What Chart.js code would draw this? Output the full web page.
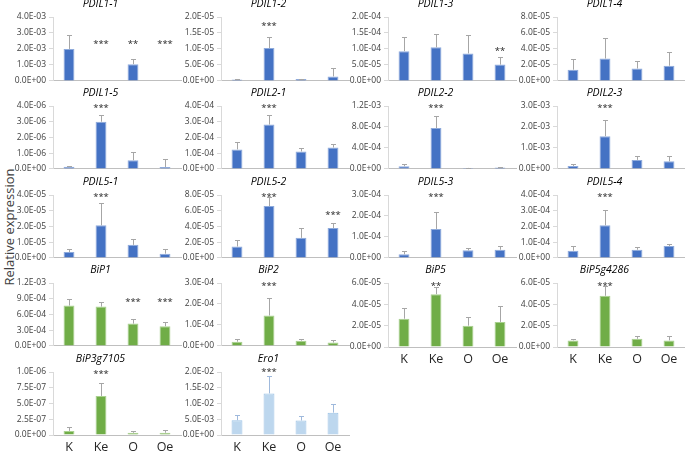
<!DOCTYPE html>
<html>
<head>
<meta charset="utf-8">
<script src="https://cdn.jsdelivr.net/npm/chart.js@4.4.0/dist/chart.umd.min.js"></script>
<style>
  html, body { margin: 0; padding: 0; background: #fff; }
  #figure { position: relative; width: 685px; height: 452px; overflow: hidden; background: #fff; }
  #figure canvas { position: absolute; }
  #yLabel {
    position: absolute; left: 9px; top: 227px;
    transform: translate(-50%, -50%) rotate(-90deg);
    font: 13px "Open Sans", sans-serif; color: #404040; white-space: nowrap;
  }
</style>
</head>
<body>
<div id="figure"><div id="yLabel">Relative expression</div></div>
<script>
const groups = ["K", "Ke", "O", "Oe"];

const genes = [
  "PDIL1-1", "PDIL1-2", "PDIL1-3", "PDIL1-4",
  "PDIL1-5", "PDIL2-1", "PDIL2-2", "PDIL2-3",
  "PDIL5-1", "PDIL5-2", "PDIL5-3", "PDIL5-4",
  "BiP1", "BiP2", "BiP5", "BiP5g4286",
  "BiP3g7105", "Ero1"
];

const means = [
  [2.0e-3, 0, 1.05e-3, 0],
  [4e-7, 1.03e-5, 6e-7, 1.4e-6],
  [9.3e-5, 1.05e-4, 8.6e-5, 5.1e-5],
  [1.4e-5, 2.8e-5, 1.55e-5, 1.9e-5],
  [1.3e-7, 3.0e-6, 5.5e-7, 1.2e-7],
  [1.24e-4, 2.82e-4, 1.11e-4, 1.36e-4],
  [5e-5, 7.8e-4, 1.9e-5, 2.5e-5],
  [1.4e-4, 1.56e-3, 4.3e-4, 3.6e-4],
  [3.7e-6, 2.07e-5, 8.3e-6, 2.7e-6],
  [1.45e-5, 6.6e-5, 2.55e-5, 3.8e-5],
  [1.7e-5, 1.38e-4, 3.6e-5, 3.9e-5],
  [4.6e-5, 2.07e-4, 5.2e-5, 7.6e-5],
  [7.7e-4, 7.5e-4, 4.25e-4, 3.75e-4],
  [2.0e-5, 1.45e-4, 2.5e-5, 1.6e-5],
  [2.65e-5, 4.95e-5, 2.0e-5, 2.35e-5],
  [6.2e-6, 4.8e-5, 7.7e-6, 6.2e-6],
  [6.5e-8, 6.2e-7, 3.5e-8, 3.5e-8],
  [4.7e-3, 1.32e-2, 4.6e-3, 7.1e-3]
];

// upper error bar length (SD)
const errors = [
  [8.5e-4, 0, 3.2e-4, 0],
  [3e-7, 3.5e-6, 1.5e-7, 2.6e-6],
  [4.3e-5, 4.1e-5, 5.7e-5, 2.3e-5],
  [1.3e-5, 2.6e-5, 1.0e-5, 1.75e-5],
  [6e-8, 4.5e-7, 5.5e-7, 4.8e-7],
  [4.9e-5, 6.0e-5, 1.9e-5, 2.4e-5],
  [3.7e-5, 2.2e-4, 6e-6, 1.2e-5],
  [1.1e-4, 7.7e-4, 2.0e-4, 2.7e-4],
  [1.7e-6, 1.4e-5, 4e-6, 2.7e-6],
  [8.5e-6, 1.2e-5, 1.25e-5, 6e-6],
  [1.4e-5, 8e-5, 9e-6, 1.9e-5],
  [3e-5, 9.5e-5, 1.5e-5, 1.5e-5],
  [1.2e-4, 8e-5, 9.5e-5, 8e-5],
  [1.1e-5, 8.2e-5, 6e-6, 1.1e-5],
  [1.0e-5, 7e-6, 8e-6, 1.5e-5],
  [1.5e-6, 9e-6, 2.5e-6, 3.7e-6],
  [6e-8, 2.1e-7, 2.5e-8, 4e-8],
  [1.5e-3, 5.6e-3, 1.5e-3, 2.6e-3]
];

const yTicks = [
  [0, 1e-3, 2e-3, 3e-3, 4e-3],
  [0, 5e-6, 1e-5, 1.5e-5, 2e-5],
  [0, 5e-5, 1e-4, 1.5e-4, 2e-4],
  [0, 2e-5, 4e-5, 6e-5, 8e-5],
  [0, 1e-6, 2e-6, 3e-6, 4e-6],
  [0, 1e-4, 2e-4, 3e-4, 4e-4],
  [0, 4e-4, 8e-4, 1.2e-3],
  [0, 1e-3, 2e-3, 3e-3],
  [0, 1e-5, 2e-5, 3e-5, 4e-5],
  [0, 2e-5, 4e-5, 6e-5, 8e-5],
  [0, 1e-4, 2e-4, 3e-4],
  [0, 1e-4, 2e-4, 3e-4, 4e-4],
  [0, 3e-4, 6e-4, 9e-4, 1.2e-3],
  [0, 1e-4, 2e-4, 3e-4],
  [0, 2e-5, 4e-5, 6e-5],
  [0, 2e-5, 4e-5, 6e-5],
  [0, 2.5e-7, 5e-7, 7.5e-7, 1e-6],
  [0, 5e-3, 1e-2, 1.5e-2, 2e-2]
];

const stars = [
  ["", "***", "**", "***"],
  ["", "***", "", ""],
  ["", "", "", "**"],
  ["", "", "", ""],
  ["", "***", "", ""],
  ["", "***", "", ""],
  ["", "***", "", ""],
  ["", "***", "", ""],
  ["", "***", "", ""],
  ["", "***", "", "***"],
  ["", "***", "", ""],
  ["", "***", "", ""],
  ["", "", "***", "***"],
  ["", "***", "", ""],
  ["", "**", "", ""],
  ["", "***", "", ""],
  ["", "***", "", ""],
  ["", "***", "", ""]
];

// value at which each star label sits
const starLevels = [
  [0, 2.45e-3, 2.45e-3, 2.45e-3],
  [0, 1.79e-5, 0, 0],
  [0, 0, 0, 9.9e-5],
  [0, 0, 0, 0],
  [0, 4e-6, 0, 0],
  [0, 4e-4, 0, 0],
  [0, 1.2e-3, 0, 0],
  [0, 3e-3, 0, 0],
  [0, 4e-5, 0, 0],
  [0, 8e-5, 0, 5.72e-5],
  [0, 3e-4, 0, 0],
  [0, 4e-4, 0, 0],
  [0, 0, 8.75e-4, 8.75e-4],
  [0, 2.97e-4, 0, 0],
  [0, 5.88e-5, 0, 0],
  [0, 5.88e-5, 0, 0],
  [0, 1e-6, 0, 0],
  [0, 2.07e-2, 0, 0]
];

// panel layout (px)
const colAxisX = [53, 221, 388, 557];
const rowTop = [17, 106, 195, 283, 372];
const rowBottom = [82, 170, 259, 347, 435];
const PLOT_W = 128;
const AXIS_W = 45;

function sci(v) {
  if (v === 0) return "0.0E+00";
  const parts = v.toExponential(1).split("e");
  const n = parseInt(parts[1], 10);
  return parts[0] + "E" + (n < 0 ? "-" : "+") + String(Math.abs(n)).padStart(2, "0");
}

function paletteFor(gene) {
  if (gene.startsWith("PDIL")) return { fill: "#4472c4", edge: "#8eaadb", err: "#a6a6a6" };
  if (gene.startsWith("BiP")) return { fill: "#70ad47", edge: "#a9d18e", err: "#a6a6a6" };
  return { fill: "#bdd7ee", edge: "#9dc3e6", err: "#9fb9dc" };
}

// panel title, centred a little left of the plot centre like the Excel originals
const panelTitle = {
  id: "panelTitle",
  afterDraw(chart, args, opts) {
    const ctx = chart.ctx;
    const a = chart.chartArea;
    ctx.save();
    ctx.fillStyle = "#000";
    ctx.font = 'italic 10.5px "Open Sans"';
    ctx.textAlign = "center";
    ctx.textBaseline = "middle";
    ctx.fillText(opts.text, a.left + 47.5, a.top - 13);
    ctx.restore();
  }
};

const errorStars = {
  id: "errorStars",
  afterDatasetsDraw(chart, args, opts) {
    const ctx = chart.ctx;
    const y = chart.scales.y;
    const bars = chart.getDatasetMeta(0).data;
    ctx.save();
    ctx.strokeStyle = opts.color;
    ctx.lineWidth = 1;
    bars.forEach((bar, k) => {
      const e = opts.err[k];
      if (!e) return;
      const x = Math.round(bar.x) + 0.5;
      const y0 = y.getPixelForValue(opts.mean[k]);
      const y1 = Math.round(y.getPixelForValue(opts.mean[k] + e)) + 0.5;
      ctx.beginPath();
      ctx.moveTo(x, y0);
      ctx.lineTo(x, y1);
      ctx.moveTo(x - 2.5, y1);
      ctx.lineTo(x + 2.5, y1);
      ctx.stroke();
    });
    ctx.fillStyle = "#262626";
    ctx.font = '9.5px "Open Sans"';
    ctx.textAlign = "center";
    ctx.textBaseline = "alphabetic";
    bars.forEach((bar, k) => {
      if (!opts.stars[k]) return;
      ctx.fillText(opts.stars[k], bar.x, y.getPixelForValue(opts.levels[k]) + 5);
    });
    ctx.restore();
  }
};

function buildPanel(i) {
  const row = Math.floor(i / 4);
  const col = i % 4;
  const labelled = i >= 14;
  const xh = labelled ? 24 : 1;
  const pb = labelled ? 2 : 6;
  const left = colAxisX[col] - AXIS_W - 3;
  const top = rowTop[row] - 19;
  const width = AXIS_W + 3 + PLOT_W + 2;
  const height = (rowBottom[row] - rowTop[row]) + 19 + xh + pb;
  const pal = paletteFor(genes[i]);
  const ticks = yTicks[i];

  const canvas = document.createElement("canvas");
  canvas.width = width;
  canvas.height = height;
  canvas.style.left = left + "px";
  canvas.style.top = top + "px";
  canvas.style.width = width + "px";
  canvas.style.height = height + "px";
  document.getElementById("figure").appendChild(canvas);

  return new Chart(canvas, {
    type: "bar",
    data: {
      labels: groups,
      datasets: [{
        data: means[i],
        backgroundColor: pal.fill,
        borderColor: pal.edge,
        borderWidth: 1,
        barPercentage: 0.34,
        categoryPercentage: 1
      }]
    },
    options: {
      responsive: false,
      animation: false,
      devicePixelRatio: 1,
      layout: { padding: { left: 3, right: 2, top: 19, bottom: pb } },
      plugins: {
        legend: { display: false },
        tooltip: { enabled: false },
        title: { display: false },
        panelTitle: { text: genes[i] },
        errorStars: {
          mean: means[i],
          err: errors[i],
          stars: stars[i],
          levels: starLevels[i],
          color: pal.err
        }
      },
      scales: {
        x: {
          grid: { display: false, drawTicks: false },
          border: { display: true, color: "#bfbfbf" },
          ticks: {
            display: labelled,
            color: "#262626",
            padding: 5,
            font: { family: "Open Sans", size: 12.5 }
          },
          afterFit: (s) => { s.height = xh; }
        },
        y: {
          min: 0,
          max: ticks[ticks.length - 1],
          grid: { drawOnChartArea: false, drawTicks: true, tickLength: 4, color: "#d9d9d9" },
          border: { display: true, color: "#d9d9d9" },
          ticks: {
            autoSkip: false,
            padding: 3,
            color: "#404040",
            font: { family: "Open Sans", size: 8.5 },
            callback: (v) => sci(v)
          },
          afterBuildTicks: (s) => { s.ticks = ticks.map((v) => ({ value: v })); },
          afterFit: (s) => { s.width = AXIS_W; }
        }
      }
    },
    plugins: [errorStars, panelTitle]
  });
}

genes.forEach((g, i) => buildPanel(i));
</script>
</body>
</html>
